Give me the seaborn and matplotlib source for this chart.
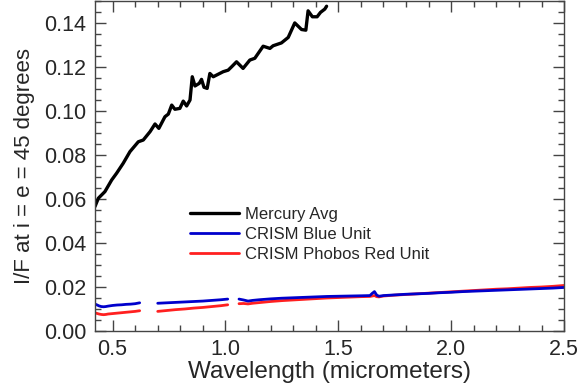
import numpy as np
import pandas as pd
import matplotlib
matplotlib.use("Agg")
import matplotlib.pyplot as plt
import seaborn as sns
from matplotlib.ticker import MultipleLocator
from matplotlib.lines import Line2D

# ---- data ----
merc_wl = [0.422, 0.437, 0.466, 0.496, 0.518, 0.547, 0.577, 0.614, 0.636, 0.666,
           0.688, 0.705, 0.732, 0.747, 0.762, 0.776, 0.798, 0.813, 0.828, 0.843,
           0.853, 0.865, 0.884, 0.894, 0.905, 0.919, 0.931, 0.946, 0.990, 1.012,
           1.027, 1.049, 1.078, 1.108, 1.130, 1.167, 1.197, 1.211, 1.248, 1.278,
           1.307, 1.337, 1.356, 1.366, 1.385, 1.406, 1.421, 1.440, 1.448]
merc_val = [0.0565, 0.0603, 0.0633, 0.0686, 0.0717, 0.0762, 0.0815, 0.0860, 0.0868, 0.0906,
            0.0941, 0.0921, 0.0974, 0.0986, 0.1027, 0.1008, 0.1012, 0.1045, 0.1023, 0.1050,
            0.1156, 0.1114, 0.1126, 0.1144, 0.1108, 0.1103, 0.1171, 0.1156, 0.1179, 0.1186,
            0.1201, 0.1224, 0.1194, 0.1232, 0.1240, 0.1295, 0.1285, 0.1297, 0.1310, 0.1335,
            0.1401, 0.1371, 0.1368, 0.1456, 0.1429, 0.1429, 0.1449, 0.1464, 0.1477]

seg1_wl = [0.42, 0.43, 0.44, 0.45, 0.46, 0.47, 0.48, 0.50, 0.52, 0.54, 0.56, 0.58, 0.60, 0.62]
seg1_blue = [0.0122, 0.0118, 0.0113, 0.0110, 0.0109, 0.0110, 0.0112, 0.0115, 0.0117, 0.0118,
             0.0120, 0.0121, 0.0123, 0.0127]
seg1_red = [0.0082, 0.0079, 0.0076, 0.0074, 0.0073, 0.0074, 0.0076, 0.0078, 0.0080, 0.0082,
            0.0084, 0.0086, 0.0088, 0.0091]

seg2_wl = [0.70, 0.74, 0.78, 0.82, 0.86, 0.90, 0.94, 0.98, 1.01]
seg2_blue = [0.0125, 0.0127, 0.0129, 0.0131, 0.0133, 0.0135, 0.0138, 0.0141, 0.0144]
seg2_red = [0.0088, 0.0092, 0.0096, 0.0099, 0.0103, 0.0106, 0.0110, 0.0114, 0.0118]

seg3_wl = [1.06, 1.08, 1.10, 1.12, 1.15, 1.20, 1.25, 1.30, 1.35, 1.40, 1.45, 1.50, 1.55,
           1.60, 1.64, 1.65, 1.66, 1.67, 1.68, 1.70, 1.75, 1.80, 1.85, 1.90, 1.95, 2.00,
           2.05, 2.10, 2.15, 2.20, 2.25, 2.30, 2.35, 2.40, 2.45, 2.50]
seg3_blue = [0.0144, 0.0140, 0.0135, 0.0138, 0.0141, 0.0145, 0.0148, 0.0150, 0.0152, 0.0154,
             0.0156, 0.0157, 0.0158, 0.0159, 0.0160, 0.0170, 0.0178, 0.0162, 0.0157, 0.0160,
             0.0163, 0.0166, 0.0168, 0.0170, 0.0173, 0.0175, 0.0178, 0.0180, 0.0182, 0.0184,
             0.0186, 0.0188, 0.0190, 0.0192, 0.0194, 0.0197]
seg3_red = [0.0123, 0.0124, 0.0122, 0.0125, 0.0128, 0.0133, 0.0137, 0.0140, 0.0143, 0.0146,
            0.0149, 0.0151, 0.0153, 0.0155, 0.0156, 0.0158, 0.0160, 0.0155, 0.0154, 0.0158,
            0.0162, 0.0165, 0.0168, 0.0171, 0.0174, 0.0177, 0.0180, 0.0183, 0.0186, 0.0189,
            0.0191, 0.0194, 0.0197, 0.0199, 0.0202, 0.0206]

labels = ["Mercury Avg", "CRISM Blue Unit", "CRISM Phobos Red Unit"]
xticks = [0.5, 1.0, 1.5, 2.0, 2.5]
yticks = [0.00, 0.02, 0.04, 0.06, 0.08, 0.10, 0.12, 0.14]

# ---- build frames ----
merc_df = pd.DataFrame({"wl": merc_wl, "val": merc_val, "seg": "m"})

def crism(segs):
    rows = []
    for name, wl, v in segs:
        rows.append(pd.DataFrame({"wl": wl, "val": v, "seg": name}))
    return pd.concat(rows, ignore_index=True)

blue_df = crism([("b1", seg1_wl, seg1_blue), ("b2", seg2_wl, seg2_blue), ("b3", seg3_wl, seg3_blue)])
red_df = crism([("r1", seg1_wl, seg1_red), ("r2", seg2_wl, seg2_red), ("r3", seg3_wl, seg3_red)])

sns.set_style("ticks")
plt.rcParams["font.family"] = ["Liberation Sans", "DejaVu Sans"]

fig = plt.figure(figsize=(5.87, 3.90), dpi=100)
ax = fig.add_axes([0.161, 0.152, 0.800, 0.845])

sns.lineplot(data=red_df, x="wl", y="val", units="seg", estimator=None, sort=False,
             color="#ff2020", lw=2.0, ax=ax)
sns.lineplot(data=blue_df, x="wl", y="val", units="seg", estimator=None, sort=False,
             color="#0000cc", lw=2.0, ax=ax)
sns.lineplot(data=merc_df, x="wl", y="val", units="seg", estimator=None, sort=False,
             color="black", lw=2.4, ax=ax)

handles = [Line2D([], [], color="black", lw=2.4),
           Line2D([], [], color="#0000cc", lw=2.0),
           Line2D([], [], color="#ff2020", lw=2.0)]
ax.legend(handles, labels, loc="upper left", bbox_to_anchor=(0.19, 0.395), frameon=False,
          fontsize=12, handlelength=2.9, handletextpad=0.4, labelspacing=0.28,
          borderaxespad=0)

ax.set_xlim(0.42, 2.5)
ax.set_ylim(0.0, 0.15)
ax.set_xticks(xticks)
ax.set_xticklabels([f"{t:.1f}" for t in xticks])
ax.set_yticks(yticks)
ax.set_yticklabels([f"{t:.2f}" for t in yticks])
ax.xaxis.set_minor_locator(MultipleLocator(0.1))
ax.yaxis.set_minor_locator(MultipleLocator(0.005))
ax.tick_params(which="both", direction="in", top=True, right=True, color="#444444")
ax.tick_params(which="major", length=8, width=1, labelsize=15.5, pad=6)
ax.tick_params(which="minor", length=4.5, width=1)
for s in ax.spines.values():
    s.set_color("#444444")
    s.set_linewidth(1.0)

ax.set_xlabel("Wavelength (micrometers)", fontsize=17.5, labelpad=1)
ax.set_ylabel("I/F at i = e = 45 degrees", fontsize=16, labelpad=6)

fig.savefig("out.png", dpi=100)
